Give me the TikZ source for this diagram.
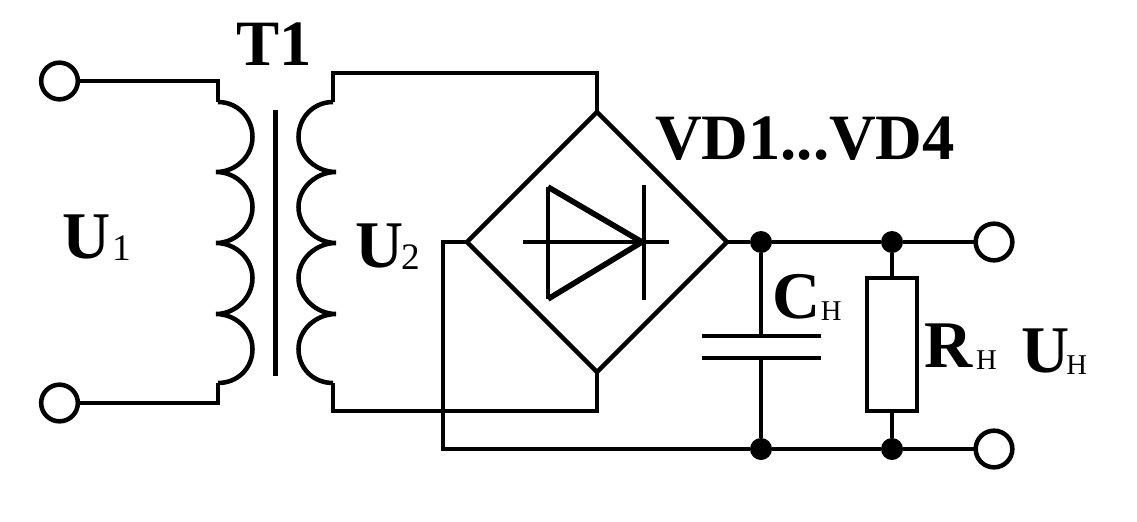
\documentclass[tikz,border=0pt]{standalone}
\usepackage{fontspec}
\setmainfont{Liberation Serif}
\newcommand{\bigt}[1]{{\fontsize{50}{50}\selectfont\bfseries #1}}
\newcommand{\midt}[1]{{\fontsize{48.5}{50}\selectfont\bfseries #1}}
\newcommand{\subt}[1]{{\fontsize{28}{28}\selectfont\raisebox{-1.5pt}{#1}}}
\newcommand{\subh}[1]{{\fontsize{21.5}{22}\selectfont\raisebox{-1.5pt}{#1}}}
\tikzset{
  wire/.style={line width=3.4pt,line cap=butt,line join=miter},
  coilwire/.style={wire,line join=bevel},
  terminal/.style={circle,draw,line width=3.4pt,fill=white,minimum size=27.5pt,inner sep=0pt,outer sep=0pt},
  junction/.style={circle,fill=black,minimum size=16.5pt,inner sep=0pt,outer sep=0pt},
  label/.style={anchor=base west,inner sep=0pt,outer sep=0pt,black},
  rbox/.style={rectangle,draw,line width=3.4pt,fill=white,minimum width=37.5pt,minimum height=100pt,inner sep=0pt,outer sep=0pt}
}
\begin{document}
\begin{tikzpicture}[x=0.75pt,y=-0.75pt]
\useasboundingbox (0,0) rectangle (1137,521);
\fill[white] (0,0) rectangle (1137,521);
% named points
\coordinate (p1a) at (218,102);
\coordinate (p1b) at (218,383);
\coordinate (s1a) at (333,102);
\coordinate (s1b) at (333,383);
\coordinate (bt) at (597,112);
\coordinate (bl) at (467,242);
\coordinate (br) at (727,242);
\coordinate (bb) at (597,372);
\coordinate (cor1) at (218,81);
\coordinate (cor2) at (218,403);
\coordinate (cor3) at (333,73);
\coordinate (cor4) at (597,73);
\coordinate (cor5) at (333,411);
\coordinate (cor6) at (597,411);
\coordinate (cor7) at (443,242);
\coordinate (cor8) at (443,449);
\coordinate (c1) at (702,336);
\coordinate (c2) at (821,336);
\coordinate (c3) at (702,358);
\coordinate (c4) at (821,358);
\coordinate (c5) at (761,336);
\coordinate (c6) at (761,358);
\coordinate (core1) at (275.5,110);
\coordinate (core2) at (275.5,376);
\coordinate (d1) at (548,187);
\coordinate (d2) at (548,299);
\coordinate (d3) at (642,242);
\coordinate (d4) at (644,185);
\coordinate (d5) at (644,300);
\coordinate (d6) at (523,242);
\coordinate (d7) at (669,242);
% terminals and junctions
\node[terminal] (t1) at (59.5,81) {};
\node[terminal] (t2) at (59.5,403) {};
\node[terminal] (t3) at (994,242) {};
\node[terminal] (t4) at (994,449) {};
\node[junction] (j1) at (761,242) {};
\node[junction] (j2) at (892,242) {};
\node[junction] (j3) at (761,449) {};
\node[junction] (j4) at (892,449) {};
% primary winding
\draw[wire] (t1) -- (cor1) -- (p1a);
\draw[wire] (t2) -- (cor2) -- (p1b);
\draw[coilwire] (p1a)
  .. controls +(19.5,0) and +(0,-19.5) .. (252.5,137)
  .. controls +(0,19.5) and +(19.5,0) .. (216,172)
  .. controls +(19.5,0) and +(0,-19.5) .. (252.5,207)
  .. controls +(0,19.5) and +(19.5,0) .. (216,243)
  .. controls +(19.5,0) and +(0,-19.5) .. (252.5,278)
  .. controls +(0,19.5) and +(19.5,0) .. (216,314)
  .. controls +(19.5,0) and +(0,-19.5) .. (252.5,349)
  .. controls +(0,19.5) and +(19.5,0) .. (p1b);
% core
\draw[wire] (core1) -- (core2);
% secondary winding
\draw[coilwire] (s1a)
  .. controls +(-19.5,0) and +(0,-19.5) .. (298.5,137)
  .. controls +(0,19.5) and +(-19.5,0) .. (336,172)
  .. controls +(-19.5,0) and +(0,-19.5) .. (298.5,207)
  .. controls +(0,19.5) and +(-19.5,0) .. (336,243)
  .. controls +(-19.5,0) and +(0,-19.5) .. (298.5,278)
  .. controls +(0,19.5) and +(-19.5,0) .. (336,314)
  .. controls +(-19.5,0) and +(0,-19.5) .. (298.5,349)
  .. controls +(0,19.5) and +(-19.5,0) .. (s1b);
\draw[wire] (s1a) -- (cor3) -- (cor4) -- (bt);
\draw[wire] (s1b) -- (cor5) -- (cor6) -- (bb);
% bridge
\draw[wire] (bt) -- (br) -- (bb) -- (bl) -- cycle;
\draw[wire] (bl) -- (cor7) -- (cor8) -- (j3);
\draw[wire] (br) -- (j1);
\draw[wire] (j1) -- (j2);
\draw[wire] (j2) -- (t3);
\draw[wire] (j3) -- (j4);
\draw[wire] (j4) -- (t4);
% diode
\draw[wire] (d1) -- (d2);
\draw[line width=4.2pt,line join=bevel] (d1) -- (d3) -- (d2);
\draw[wire] (d4) -- (d5);
\draw[wire] (d6) -- (d7);
% capacitor
\draw[wire] (c1) -- (c2);
\draw[wire] (c3) -- (c4);
\draw[wire] (j1) -- (c5);
\draw[wire] (c6) -- (j3);
% resistor
\node[rbox] (r) at (892,344.5) {};
\draw[wire] (j2) -- (r);
\draw[wire] (r) -- (j4);
% labels
\node[label] (lt) at (236,65) {\midt{T1}};
\node[label] (lvd) at (655,159) {\midt{VD1...VD4}};
\node[label] (lu1) at (62,258) {\bigt{U}\kern1.5pt\subt{1}};
\node[label] (lu2) at (355,267) {\bigt{U}\kern-1.5pt\subt{2}};
\node[label] (lc) at (772,318) {\bigt{C}\kern0.5pt\subh{Н}};
\node[label] (lr) at (924,367) {\bigt{R}\kern3pt\subh{Н}};
\node[label] (lun) at (1021,372) {\bigt{U}\kern-2pt\subh{Н}};
\end{tikzpicture}
\end{document}
